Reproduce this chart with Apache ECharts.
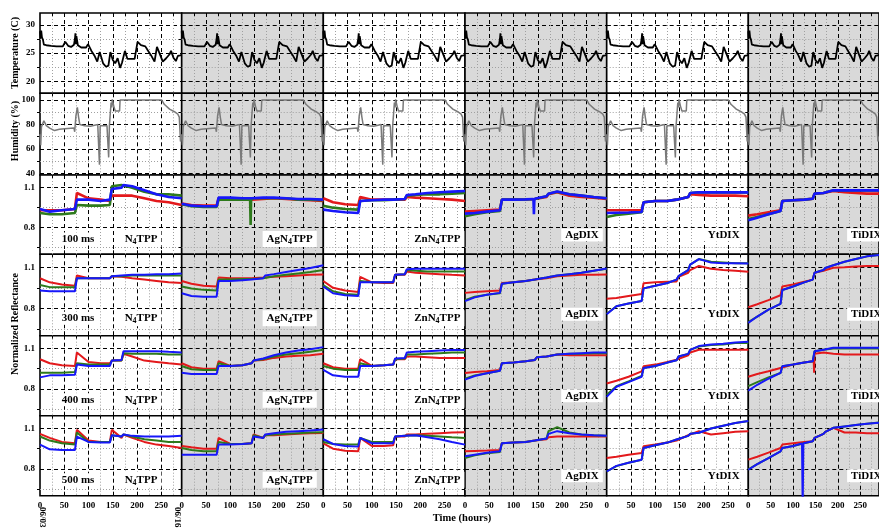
<!DOCTYPE html>
<html><head><meta charset="utf-8">
<script src="https://cdn.jsdelivr.net/npm/echarts@6/dist/echarts.min.js"></script>
<style>html,body{margin:0;padding:0;background:#fff}#c{width:879px;height:531px}</style>
</head><body><div id="c"></div>
<script>
// ---------------- DATA ----------------
const tempHours = [0, 1, 2.5, 4, 6, 8, 13, 23, 34, 47, 52, 58, 64, 70, 72, 73, 74, 75, 78, 85, 95, 99, 106, 112, 118, 123, 130, 136, 141, 145, 150, 155, 160, 165, 169, 175, 180, 195, 201, 208, 217, 222, 229, 236, 241, 248, 253, 260, 267, 270, 275, 280, 284, 289, 292];
const tempValues = [28.9, 27.6, 29.0, 27.8, 27.4, 26.5, 26.4, 26.3, 26.2, 26.2, 27.0, 26.3, 26.1, 26.5, 27.5, 28.5, 26.6, 28.0, 26.4, 26.0, 26.0, 26.6, 25.4, 24.6, 23.5, 25.2, 23.2, 22.6, 22.8, 25.2, 23.8, 23.2, 24.1, 22.4, 23.3, 25.4, 24.0, 24.0, 27.0, 26.4, 26.2, 25.5, 24.6, 23.5, 26.1, 24.6, 23.5, 24.1, 24.8, 25.4, 24.2, 23.6, 24.5, 24.6, 24.7];

const humHours = [0, 1.5, 3, 8, 13, 20, 30, 40, 51, 70, 71.5, 74, 77, 79.5, 82, 92, 104, 119, 121.5, 122.5, 124, 138, 140.5, 141.5, 143, 146.5, 148, 149, 152, 155, 164, 165, 251, 256, 267, 277, 284, 287, 289.5, 292];
const humValues = [72, 63, 78, 83, 79, 77, 75, 76, 76.5, 77, 74, 87, 94, 86, 80, 79, 78.5, 80, 79, 47, 79, 79, 79, 53, 79, 98, 94, 100.5, 95, 91, 91, 100, 100, 96.5, 92.5, 90.4, 88.5, 86, 66, 70];

const reflHours = [0, 20, 45, 72, 76, 100, 125, 144, 148, 168, 172, 190, 215, 240, 265, 292];

const samples = ['N₄TPP', 'AgN₄TPP', 'ZnN₄TPP', 'AgDIX', 'YtDIX', 'TiDIX'];
const exposures = ['100 ms', '300 ms', '400 ms', '500 ms'];
const xTickLabels = [0, 50, 100, 150, 200, 250];
const xMajorTicks = [50, 100, 150, 200, 250];
const xMinorTicks = [25, 75, 125, 175, 225, 275];
const tempTicks = [20, 25, 30];
const tempMinor = [22.5, 27.5];
const humTicks = [40, 60, 80, 100];
const humMinor = [50, 70, 90];
const reflTicks = [0.8, 1.1];
const reflMinor = [0.65, 0.95];

// N4TPP
const N4TPP_100_red   = [0.93, 0.93, 0.93, 0.94, 1.06, 1.02, 1.01, 1.00, 1.04, 1.04, 1.05, 1.04, 1.02, 1.00, 0.99, 0.97];
const N4TPP_100_green = [0.91, 0.90, 0.90, 0.91, 0.97, 0.965, 0.965, 0.97, 1.11, 1.12, 1.11, 1.10, 1.07, 1.05, 1.05, 1.04];
const N4TPP_100_blue  = [0.94, 0.92, 0.93, 0.94, 1.01, 1.01, 1.00, 1.01, 1.09, 1.10, 1.12, 1.11, 1.08, 1.05, 1.03, 1.02];
const N4TPP_300_red   = [1.02, 0.99, 0.975, 0.965, 1.04, 1.02, 1.02, 1.02, 1.035, 1.03, 1.03, 1.02, 1.01, 1.0, 0.99, 0.985];
const N4TPP_300_green = [0.97, 0.955, 0.955, 0.955, 1.02, 1.02, 1.02, 1.02, 1.035, 1.035, 1.04, 1.04, 1.04, 1.04, 1.04, 1.04];
const N4TPP_300_blue  = [0.93, 0.925, 0.925, 0.925, 1.02, 1.02, 1.02, 1.02, 1.035, 1.04, 1.045, 1.045, 1.045, 1.05, 1.05, 1.055];
const N4TPP_400_red   = [1.02, 0.99, 0.975, 0.97, 1.07, 1.0, 0.99, 0.99, 1.01, 1.01, 1.06, 1.04, 1.01, 1.0, 0.99, 0.98];
const N4TPP_400_green = [0.92, 0.92, 0.92, 0.925, 0.99, 0.98, 0.98, 0.98, 1.01, 1.01, 1.065, 1.06, 1.06, 1.06, 1.055, 1.055];
const N4TPP_400_blue  = [0.885, 0.9, 0.9, 0.905, 0.98, 0.97, 0.97, 0.97, 1.01, 1.015, 1.08, 1.08, 1.08, 1.08, 1.075, 1.07];
const N4TPP_500_red   = [1.06, 1.03, 1.0, 0.99, 1.09, 1.01, 1.0, 1.0, 1.09, 1.03, 1.055, 1.03, 1.0, 0.98, 0.97, 0.955];
const N4TPP_500_green = [1.04, 1.01, 0.99, 0.98, 1.07, 1.0, 1.0, 1.0, 1.05, 1.04, 1.055, 1.04, 1.02, 1.01, 1.0, 1.0];
const N4TPP_500_blue  = [0.98, 0.945, 0.94, 0.94, 1.04, 1.0, 0.995, 0.995, 1.05, 1.04, 1.055, 1.045, 1.04, 1.04, 1.04, 1.045];
// AgN4TPP
const AgN4TPP_100_red   = [0.98, 0.97, 0.965, 0.965, 1.02, 1.02, 1.015, 1.01, 1.02, 1.015, 1.02, 1.02, 1.015, 1.01, 1.005, 1.0];
const AgN4TPP_100_green = [0.975, 0.96, 0.955, 0.955, 1.01, 1.01, 1.01, 1.01, 1.02, 1.02, 1.025, 1.02, 1.02, 1.01, 1.01, 1.005];
const AgN4TPP_100_blue  = [0.98, 0.965, 0.96, 0.96, 1.025, 1.025, 1.02, 1.02, 1.03, 1.025, 1.025, 1.025, 1.02, 1.015, 1.015, 1.01];
const AgN4TPP_300_red   = [1.0, 0.98, 0.965, 0.96, 1.025, 1.02, 1.02, 1.02, 1.025, 1.025, 1.03, 1.03, 1.035, 1.04, 1.045, 1.047];
const AgN4TPP_300_green = [0.96, 0.945, 0.935, 0.93, 1.01, 1.01, 1.015, 1.015, 1.02, 1.02, 1.025, 1.035, 1.045, 1.055, 1.065, 1.08];
const AgN4TPP_300_blue  = [0.91, 0.89, 0.885, 0.885, 1.0, 1.0, 1.005, 1.01, 1.02, 1.02, 1.04, 1.05, 1.065, 1.08, 1.095, 1.115];
const AgN4TPP_400_red   = [0.99, 0.96, 0.95, 0.95, 1.005, 0.97, 0.975, 0.99, 1.01, 1.015, 1.02, 1.03, 1.04, 1.045, 1.05, 1.06];
const AgN4TPP_400_green = [0.97, 0.945, 0.94, 0.94, 0.99, 0.97, 0.975, 0.99, 1.01, 1.02, 1.025, 1.04, 1.055, 1.065, 1.075, 1.09];
const AgN4TPP_400_blue  = [0.92, 0.91, 0.91, 0.91, 0.97, 0.97, 0.975, 0.99, 1.01, 1.025, 1.035, 1.05, 1.07, 1.085, 1.095, 1.11];
const AgN4TPP_500_red   = [0.97, 0.96, 0.95, 0.95, 1.03, 0.985, 0.985, 0.99, 1.055, 1.03, 1.05, 1.05, 1.055, 1.06, 1.065, 1.067];
const AgN4TPP_500_green = [0.955, 0.94, 0.93, 0.93, 1.0, 0.985, 0.985, 0.99, 1.05, 1.03, 1.05, 1.055, 1.06, 1.065, 1.07, 1.072];
const AgN4TPP_500_blue  = [0.905, 0.905, 0.905, 0.905, 0.98, 0.98, 0.985, 0.99, 1.04, 1.03, 1.055, 1.065, 1.075, 1.08, 1.085, 1.093];
// ZnN4TPP
const ZnN4TPP_100_red   = [1.02, 0.99, 0.975, 0.97, 1.03, 1.01, 1.01, 1.01, 1.01, 1.01, 1.03, 1.025, 1.02, 1.015, 1.01, 1.0];
const ZnN4TPP_100_green = [0.965, 0.95, 0.94, 0.935, 1.0, 1.005, 1.005, 1.01, 1.01, 1.015, 1.04, 1.045, 1.05, 1.05, 1.055, 1.06];
const ZnN4TPP_100_blue  = [0.935, 0.925, 0.915, 0.91, 1.0, 1.005, 1.01, 1.01, 1.01, 1.015, 1.045, 1.05, 1.06, 1.065, 1.07, 1.075];
const ZnN4TPP_300_red   = [1.0, 0.95, 0.93, 0.92, 1.03, 0.99, 0.985, 0.985, 1.045, 1.045, 1.07, 1.06, 1.055, 1.05, 1.045, 1.04];
const ZnN4TPP_300_green = [0.97, 0.925, 0.905, 0.9, 1.0, 0.99, 0.99, 0.99, 1.045, 1.05, 1.08, 1.075, 1.07, 1.07, 1.07, 1.07];
const ZnN4TPP_300_blue  = [0.96, 0.91, 0.895, 0.89, 0.99, 0.99, 0.99, 0.99, 1.045, 1.05, 1.085, 1.09, 1.09, 1.09, 1.09, 1.09];
const ZnN4TPP_400_red   = [0.99, 0.96, 0.95, 0.95, 1.02, 0.97, 0.975, 0.98, 1.02, 1.02, 1.04, 1.04, 1.035, 1.03, 1.03, 1.03];
const ZnN4TPP_400_green = [0.97, 0.95, 0.94, 0.94, 0.99, 0.97, 0.975, 0.98, 1.02, 1.025, 1.055, 1.055, 1.06, 1.065, 1.07, 1.07];
const ZnN4TPP_400_blue  = [0.94, 0.9, 0.89, 0.89, 0.97, 0.97, 0.975, 0.98, 1.025, 1.03, 1.07, 1.075, 1.08, 1.085, 1.088, 1.088];
const ZnN4TPP_500_red   = [0.99, 0.95, 0.935, 0.93, 1.03, 0.97, 0.97, 0.975, 1.04, 1.04, 1.055, 1.055, 1.06, 1.065, 1.07, 1.072];
const ZnN4TPP_500_green = [1.0, 0.985, 0.98, 0.98, 1.03, 1.0, 1.0, 1.0, 1.04, 1.045, 1.055, 1.05, 1.045, 1.04, 1.035, 1.03];
const ZnN4TPP_500_blue  = [1.02, 0.985, 0.97, 0.965, 1.03, 0.99, 0.99, 0.99, 1.04, 1.045, 1.055, 1.05, 1.035, 1.02, 1.0, 0.98];
// AgDIX
const AgDIX_100_red   = [0.92, 0.925, 0.93, 0.935, 1.01, 1.01, 1.012, 1.015, 1.02, 1.03, 1.05, 1.065, 1.04, 1.03, 1.025, 1.015];
const AgDIX_100_green = [0.885, 0.9, 0.915, 0.925, 1.01, 1.01, 1.012, 1.015, 1.02, 1.035, 1.055, 1.07, 1.05, 1.04, 1.03, 1.02];
const AgDIX_100_blue  = [0.905, 0.91, 0.92, 0.93, 1.01, 1.01, 1.012, 1.015, 1.02, 1.035, 1.055, 1.072, 1.05, 1.04, 1.03, 1.02];
const AgDIX_300_red   = [0.913, 0.92, 0.925, 0.93, 0.985, 0.99, 1.0, 1.01, 1.015, 1.02, 1.025, 1.035, 1.04, 1.045, 1.045, 1.047];
const AgDIX_300_green = [0.86, 0.885, 0.9, 0.91, 0.98, 0.99, 1.0, 1.01, 1.015, 1.025, 1.03, 1.04, 1.05, 1.06, 1.075, 1.09];
const AgDIX_300_blue  = [0.853, 0.88, 0.9, 0.913, 0.98, 0.99, 1.0, 1.01, 1.015, 1.025, 1.03, 1.04, 1.05, 1.06, 1.075, 1.092];
const AgDIX_400_red   = [0.918, 0.925, 0.93, 0.94, 0.99, 0.995, 1.005, 1.015, 1.035, 1.04, 1.045, 1.055, 1.05, 1.05, 1.05, 1.05];
const AgDIX_400_green = [0.875, 0.9, 0.915, 0.935, 0.99, 0.995, 1.005, 1.015, 1.035, 1.04, 1.045, 1.055, 1.06, 1.06, 1.065, 1.065];
const AgDIX_400_blue  = [0.868, 0.895, 0.915, 0.935, 0.99, 0.995, 1.005, 1.015, 1.035, 1.04, 1.045, 1.055, 1.06, 1.065, 1.07, 1.07];
const AgDIX_500_red   = [0.93, 0.933, 0.936, 0.94, 0.99, 0.995, 1.0, 1.01, 1.018, 1.02, 1.035, 1.04, 1.04, 1.04, 1.04, 1.04];
const AgDIX_500_green = [0.88, 0.9, 0.915, 0.925, 0.99, 0.995, 1.0, 1.01, 1.018, 1.025, 1.08, 1.11, 1.07, 1.055, 1.05, 1.045];
const AgDIX_500_blue  = [0.893, 0.905, 0.92, 0.93, 0.99, 0.995, 1.0, 1.01, 1.018, 1.025, 1.06, 1.08, 1.065, 1.055, 1.05, 1.045];
// YtDIX
const YtDIX_100_red   = [0.93, 0.93, 0.93, 0.93, 0.99, 1.0, 1.0, 1.01, 1.02, 1.03, 1.05, 1.045, 1.04, 1.04, 1.04, 1.035];
const YtDIX_100_green = [0.88, 0.895, 0.905, 0.915, 0.99, 1.0, 1.0, 1.01, 1.02, 1.03, 1.06, 1.065, 1.065, 1.065, 1.065, 1.065];
const YtDIX_100_blue  = [0.91, 0.912, 0.914, 0.917, 0.99, 1.0, 1.0, 1.01, 1.02, 1.03, 1.06, 1.065, 1.065, 1.065, 1.065, 1.065];
const YtDIX_300_red   = [0.87, 0.875, 0.89, 0.904, 0.984, 0.99, 0.995, 0.997, 1.03, 1.06, 1.08, 1.11, 1.09, 1.08, 1.075, 1.067];
const YtDIX_300_green = [0.76, 0.815, 0.835, 0.853, 0.946, 0.965, 0.985, 1.01, 1.035, 1.08, 1.12, 1.16, 1.14, 1.135, 1.13, 1.13];
const YtDIX_300_blue  = [0.757, 0.815, 0.835, 0.853, 0.946, 0.965, 0.985, 1.01, 1.035, 1.08, 1.12, 1.16, 1.135, 1.13, 1.13, 1.128];
const YtDIX_400_red   = [0.84, 0.86, 0.89, 0.93, 0.967, 0.98, 1.0, 1.017, 1.03, 1.05, 1.07, 1.09, 1.09, 1.09, 1.09, 1.09];
const YtDIX_400_green = [0.755, 0.82, 0.855, 0.895, 0.955, 0.97, 0.995, 1.012, 1.04, 1.06, 1.09, 1.115, 1.125, 1.13, 1.14, 1.14];
const YtDIX_400_blue  = [0.74, 0.815, 0.85, 0.89, 0.955, 0.97, 0.995, 1.012, 1.04, 1.06, 1.09, 1.118, 1.13, 1.135, 1.145, 1.15];
const YtDIX_500_red   = [0.88, 0.89, 0.905, 0.917, 0.967, 0.98, 0.995, 1.01, 1.02, 1.05, 1.06, 1.08, 1.055, 1.065, 1.075, 1.08];
const YtDIX_500_green = [0.78, 0.82, 0.845, 0.868, 0.955, 0.975, 0.995, 1.018, 1.025, 1.045, 1.06, 1.068, 1.1, 1.12, 1.14, 1.155];
const YtDIX_500_blue  = [0.78, 0.822, 0.845, 0.868, 0.955, 0.975, 0.995, 1.018, 1.025, 1.045, 1.06, 1.068, 1.1, 1.12, 1.14, 1.155];
// TiDIX
const TiDIX_100_red   = [0.89, 0.9, 0.915, 0.93, 1.0, 1.005, 1.01, 1.017, 1.055, 1.06, 1.065, 1.075, 1.065, 1.06, 1.055, 1.055];
const TiDIX_100_green = [0.865, 0.88, 0.9, 0.925, 1.0, 1.005, 1.01, 1.017, 1.055, 1.06, 1.065, 1.08, 1.08, 1.08, 1.08, 1.08];
const TiDIX_100_blue  = [0.855, 0.875, 0.9, 0.925, 1.0, 1.005, 1.01, 1.017, 1.055, 1.06, 1.065, 1.08, 1.08, 1.08, 1.08, 1.08];
const TiDIX_300_red   = [0.808, 0.83, 0.86, 0.896, 0.96, 0.975, 0.995, 1.01, 1.06, 1.075, 1.085, 1.097, 1.1, 1.105, 1.11, 1.11];
const TiDIX_300_green = [0.7, 0.74, 0.79, 0.833, 0.934, 0.96, 0.99, 1.01, 1.06, 1.08, 1.095, 1.115, 1.14, 1.16, 1.18, 1.19];
const TiDIX_300_blue  = [0.694, 0.74, 0.79, 0.833, 0.934, 0.96, 0.99, 1.01, 1.06, 1.08, 1.095, 1.115, 1.14, 1.16, 1.18, 1.19];
const TiDIX_400_red   = [0.89, 0.91, 0.93, 0.955, 0.967, 0.98, 0.995, 1.005, 1.06, 1.07, 1.08, 1.06, 1.055, 1.055, 1.055, 1.055];
const TiDIX_400_green = [0.82, 0.85, 0.885, 0.918, 0.967, 0.98, 0.995, 1.005, 1.08, 1.09, 1.095, 1.1, 1.1, 1.1, 1.1, 1.1];
const TiDIX_400_blue  = [0.787, 0.83, 0.875, 0.918, 0.967, 0.98, 0.995, 1.005, 1.08, 1.09, 1.095, 1.105, 1.105, 1.105, 1.105, 1.105];
const TiDIX_500_red   = [0.868, 0.89, 0.92, 0.955, 0.98, 0.99, 1.0, 1.005, 1.03, 1.06, 1.075, 1.105, 1.07, 1.07, 1.065, 1.065];
const TiDIX_500_green = [0.795, 0.835, 0.88, 0.93, 0.955, 0.97, 0.99, 1.005, 1.03, 1.06, 1.075, 1.105, 1.115, 1.125, 1.135, 1.145];
const TiDIX_500_blue  = [0.793, 0.835, 0.88, 0.93, 0.955, 0.97, 0.99, 1.005, 1.03, 1.06, 1.075, 1.105, 1.115, 1.125, 1.135, 1.143];
// short glitches [hour, value]
const TiDIX_500_blue_glitch = [[120, 0.988], [121.5, 0.5], [123, 0.99]];
const TiDIX_400_red_glitch = [[146, 1.03], [147, 0.92], [148.5, 1.06]];
const AgN4TPP_100_green_glitch = [[141, 1.01], [142, 0.82], [143, 1.01]];
const AgDIX_100_blue_glitch = [[141, 1.015], [142, 0.9], [143, 1.015]];

// ---------------- BUILD ----------------
const panelSeries = [
  [[N4TPP_100_red, N4TPP_100_green, N4TPP_100_blue], [AgN4TPP_100_red, AgN4TPP_100_green, AgN4TPP_100_blue], [ZnN4TPP_100_red, ZnN4TPP_100_green, ZnN4TPP_100_blue], [AgDIX_100_red, AgDIX_100_green, AgDIX_100_blue], [YtDIX_100_red, YtDIX_100_green, YtDIX_100_blue], [TiDIX_100_red, TiDIX_100_green, TiDIX_100_blue]],
  [[N4TPP_300_red, N4TPP_300_green, N4TPP_300_blue], [AgN4TPP_300_red, AgN4TPP_300_green, AgN4TPP_300_blue], [ZnN4TPP_300_red, ZnN4TPP_300_green, ZnN4TPP_300_blue], [AgDIX_300_red, AgDIX_300_green, AgDIX_300_blue], [YtDIX_300_red, YtDIX_300_green, YtDIX_300_blue], [TiDIX_300_red, TiDIX_300_green, TiDIX_300_blue]],
  [[N4TPP_400_red, N4TPP_400_green, N4TPP_400_blue], [AgN4TPP_400_red, AgN4TPP_400_green, AgN4TPP_400_blue], [ZnN4TPP_400_red, ZnN4TPP_400_green, ZnN4TPP_400_blue], [AgDIX_400_red, AgDIX_400_green, AgDIX_400_blue], [YtDIX_400_red, YtDIX_400_green, YtDIX_400_blue], [TiDIX_400_red, TiDIX_400_green, TiDIX_400_blue]],
  [[N4TPP_500_red, N4TPP_500_green, N4TPP_500_blue], [AgN4TPP_500_red, AgN4TPP_500_green, AgN4TPP_500_blue], [ZnN4TPP_500_red, ZnN4TPP_500_green, ZnN4TPP_500_blue], [AgDIX_500_red, AgDIX_500_green, AgDIX_500_blue], [YtDIX_500_red, YtDIX_500_green, YtDIX_500_blue], [TiDIX_500_red, TiDIX_500_green, TiDIX_500_blue]]
];
const glitches = [
  {row: 3, col: 5, k: 2, pts: TiDIX_500_blue_glitch},
  {row: 2, col: 5, k: 0, pts: TiDIX_400_red_glitch},
  {row: 0, col: 1, k: 1, pts: AgN4TPP_100_green_glitch},
  {row: 0, col: 3, k: 2, pts: AgDIX_100_blue_glitch}
];

const FONT = '"Liberation Serif", "DejaVu Serif", serif';
const colLeft = [40, 181.7, 323.3, 465, 606.7, 748.3];
const colWidth = 141.7;
const rowTop = [13, 93.3, 175, 254.3, 335.7, 415.7];
const rowBottom = [93.3, 175, 254.3, 335.7, 415.7, 495.7];
const shaded = [false, true, false, true, false, true];
const lineColors = ['#e3191c', '#2e7a1c', '#1717fa'];

const rowY = [
  {min: 17.9, max: 32.1, major: tempTicks, minor: tempMinor},
  {min: 38.6, max: 105.5, major: humTicks, minor: humMinor},
  {min: 0.6, max: 1.195, major: reflTicks, minor: reflMinor},
  {min: 0.6, max: 1.195, major: reflTicks, minor: reflMinor},
  {min: 0.6, max: 1.195, major: reflTicks, minor: reflMinor},
  {min: 0.6, max: 1.195, major: reflTicks, minor: reflMinor}
];

const grids = [], xAxes = [], yAxes = [], series = [];
function pairs(xs, ys) { return xs.map((x, i) => [x, ys[i]]); }

for (let r = 0; r < 6; r++) {
  for (let c = 0; c < 6; c++) {
    const gi = grids.length;
    grids.push({
      left: colLeft[c], top: rowTop[r], width: colWidth, height: rowBottom[r] - rowTop[r],
      show: true, backgroundColor: shaded[c] ? '#d9d9d9' : '#ffffff',
      borderColor: '#000', borderWidth: 1.6, containLabel: false
    });
    xAxes.push({
      type: 'value', gridIndex: gi, min: 0, max: 292, position: 'bottom',
      axisLine: {show: false},
      axisTick: {show: true, inside: true, length: 4, customValues: xMajorTicks, lineStyle: {color: '#000', width: 1}},
      axisLabel: {show: r === 5, customValues: xTickLabels, margin: 5, fontFamily: FONT, fontWeight: 'bold', fontSize: 9, color: '#000'},
      splitLine: {show: true, lineStyle: {color: '#000', width: 1, type: [4, 3]}}
    });
    xAxes.push({
      type: 'value', gridIndex: gi, min: 0, max: 292, position: 'top',
      axisLine: {show: false},
      axisTick: {show: true, inside: true, length: 3, customValues: xMinorTicks, lineStyle: {color: '#000', width: 1}},
      axisLabel: {show: false},
      splitLine: {show: true, lineStyle: {color: '#a0a0a0', width: 1, type: [1, 2]}}
    });
    const ry = rowY[r];
    yAxes.push({
      type: 'value', gridIndex: gi, min: ry.min, max: ry.max, position: 'left',
      axisLine: {show: false},
      axisTick: {show: true, inside: true, length: 4, customValues: ry.major, lineStyle: {color: '#000', width: 1}},
      axisLabel: {show: c === 0, customValues: ry.major, margin: 5, fontFamily: FONT, fontWeight: 'bold', fontSize: 9, color: '#000'},
      splitLine: {show: true, lineStyle: {color: '#000', width: 1, type: [4, 3]}}
    });
    yAxes.push({
      type: 'value', gridIndex: gi, min: ry.min, max: ry.max, position: 'right',
      axisLine: {show: false},
      axisTick: {show: true, inside: true, length: 3, customValues: ry.minor, lineStyle: {color: '#000', width: 1}},
      axisLabel: {show: false},
      splitLine: {show: true, lineStyle: {color: '#a0a0a0', width: 1, type: [1, 2]}}
    });
    const base = {type: 'line', xAxisIndex: 2 * gi, yAxisIndex: 2 * gi, symbol: 'none', silent: true, animation: false, clip: true};
    if (r === 0) {
      series.push(Object.assign({}, base, {data: pairs(tempHours, tempValues), lineStyle: {color: '#000', width: 1.8}}));
    } else if (r === 1) {
      series.push(Object.assign({}, base, {data: pairs(humHours, humValues), lineStyle: {color: '#7a7a7a', width: 1.5}}));
    } else {
      const sets = panelSeries[r - 2][c];
      for (let k = 0; k < 3; k++) {
        let d = pairs(reflHours, sets[k]);
        glitches.forEach(g => {
          if (g.row === r - 2 && g.col === c && g.k === k) d = d.concat(g.pts).sort((a, b) => a[0] - b[0]);
        });
        series.push(Object.assign({}, base, {data: d, lineStyle: {color: lineColors[k], width: (r === 2 ? 2.6 : 2)}}));
      }
    }
  }
}

// ---------------- TEXT ----------------
function richName(s) {
  const p = s.split('₄');
  return p.length === 2 ? '{b|' + p[0] + '}{s|4}{b|' + p[1] + '}' : '{b|' + s + '}';
}
const graphic = [];
const labelDx = [101, 108, 114, 117, 117, 118];
const labelDy = [64, 64, 64, 60, 60, 60];
for (let r = 0; r < 4; r++) {
  for (let c = 0; c < 6; c++) {
    graphic.push({
      type: 'text', x: colLeft[c] + labelDx[c], y: rowTop[r + 2] + labelDy[c], z: 100,
      style: {
        text: richName(samples[c]), align: 'center', verticalAlign: 'middle',
        textAlign: 'center', textVerticalAlign: 'middle',
        backgroundColor: '#fff', padding: [1, 4, 1, 4],
        rich: {
          b: {fontFamily: FONT, fontWeight: 'bold', fontSize: 11, fill: '#000'},
          s: {fontFamily: FONT, fontWeight: 'bold', fontSize: 8, fill: '#000', padding: [6, 0, 0, 0]}
        }
      }
    });
  }
  graphic.push({
    type: 'text', x: colLeft[0] + 38, y: rowTop[r + 2] + 64, z: 100,
    style: {text: exposures[r], align: 'center', verticalAlign: 'middle', textAlign: 'center', textVerticalAlign: 'middle',
      font: 'bold 11px ' + FONT, fill: '#000', backgroundColor: '#fff', padding: [1, 3, 1, 3]}
  });
}
function vText(txt, x, y, size) {
  return {type: 'text', x: x, y: y, rotation: Math.PI / 2, z: 100,
    style: {text: txt, align: 'center', verticalAlign: 'middle', textAlign: 'center', textVerticalAlign: 'middle',
      font: 'bold ' + size + 'px ' + FONT, fill: '#000'}};
}
graphic.push(vText('Temperature (C)', 15, 53, 10));
graphic.push(vText('Humidity (%)', 15, 131, 10));
graphic.push(vText('Normalized Reflectance', 15, 324, 10));
graphic.push({type: 'text', x: 462, y: 518, z: 100,
  style: {text: 'Time (hours)', align: 'center', verticalAlign: 'middle', textAlign: 'center', textVerticalAlign: 'middle', font: 'bold 10.5px ' + FONT, fill: '#000'}});
graphic.push({type: 'text', x: 42, y: 507, rotation: -Math.PI / 2, z: 100,
  style: {text: '06/03', align: 'left', verticalAlign: 'middle', textAlign: 'left', textVerticalAlign: 'middle', font: 'bold 9px ' + FONT, fill: '#000'}});
graphic.push({type: 'text', x: 177, y: 507, rotation: -Math.PI / 2, z: 100,
  style: {text: '06/16', align: 'left', verticalAlign: 'middle', textAlign: 'left', textVerticalAlign: 'middle', font: 'bold 9px ' + FONT, fill: '#000'}});

const chart = echarts.init(document.getElementById('c'), null, {renderer: 'canvas'});
chart.setOption({
  animation: false,
  backgroundColor: '#fff',
  grid: grids, xAxis: xAxes, yAxis: yAxes, series: series, graphic: graphic
});
</script>
</body></html>
